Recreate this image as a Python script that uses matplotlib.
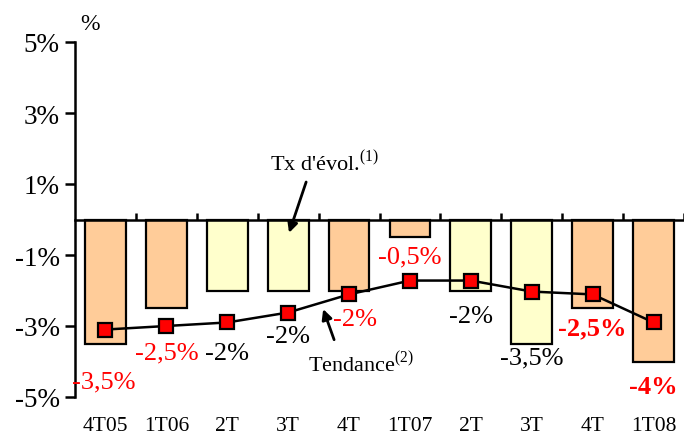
import matplotlib
matplotlib.use("Agg")
import matplotlib.pyplot as plt
from matplotlib.transforms import blended_transform_factory

categories = ["4T05", "1T06", "2T", "3T", "4T", "1T07", "2T", "3T", "4T", "1T08"]
bar_values = [-3.5, -2.5, -2, -2, -2, -0.5, -2, -3.5, -2.5, -4]
trend_values = [-3.1, -3.0, -2.9, -2.62, -2.11, -1.72, -1.72, -2.03, -2.11, -2.9]
bar_kind = ["o", "o", "y", "y", "o", "o", "y", "y", "o", "o"]
value_labels = ["-3,5%", "-2,5%", "-2%", "-2%", "-2%", "-0,5%", "-2%", "-3,5%", "-2,5%", "-4%"]
yticks = [-5, -3, -1, 1, 3, 5]
ytick_labels = ["-5%", "-3%", "-1%", "1%", "3%", "5%"]

plt.rcParams['font.family'] = ['Liberation Serif', 'DejaVu Serif']
plt.rcParams['mathtext.fontset'] = 'custom'
plt.rcParams['mathtext.rm'] = 'Liberation Serif'

fig = plt.figure(figsize=(6.84, 4.39), dpi=100)
ax = fig.add_axes([75/684, 41/439, 609/684, 355/439])

colors = {"o": "#FFCC99", "y": "#FFFFCC"}
x = list(range(len(categories)))
ax.bar(x, bar_values, width=0.67, color=[colors[k] for k in bar_kind],
       edgecolor="black", linewidth=1.6, zorder=2)
ax.plot(x, trend_values, color="black", lw=1.8, marker="s", markersize=10,
        markerfacecolor="#FF0000", markeredgecolor="black", markeredgewidth=1.6, zorder=3)

ax.set_xlim(-0.5, 9.5)
ax.set_ylim(-5, 5)
ax.set_yticks(yticks)
ax.set_yticklabels(ytick_labels, fontsize=19.5)
ax.tick_params(axis='y', direction='out', length=7, width=1.8, pad=4)
for s in ["top", "right"]:
    ax.spines[s].set_visible(False)
ax.spines["left"].set_linewidth(1.8)
ax.spines["bottom"].set_position(("data", 0))
ax.spines["bottom"].set_linewidth(1.8)
ax.spines["bottom"].set_zorder(4)
ax.set_xticks([])
ax.set_xticks([i + 0.5 for i in x], minor=True)
ax.tick_params(axis='x', which='minor', direction='out', length=5, width=1.8, top=False, bottom=True)
ax.xaxis.set_tick_params(which='minor', labelbottom=False)
for t in ax.xaxis.get_minorticklines():
    t.set_marker(2)

trans = blended_transform_factory(ax.transData, ax.transAxes)
for i, c in enumerate(categories):
    ax.text(i, -0.08, c, transform=trans, ha="center", va="center", fontsize=15.5)

label_pos = [(-0.03, -4.55), (0, -3.75), (0, -3.75), (0, -3.27), (0.1, -2.8), (0, -1.05), (0, -2.72), (0, -3.9), (0, -3.05), (0, -4.7)]
for i, (lab, (dx, yy)) in enumerate(zip(value_labels, label_pos)):
    col = "#FF0000" if bar_kind[i] == "o" else "black"
    bold = i >= 8
    ax.text(i + dx, yy, lab, ha="center", va="center", fontsize=19,
            color=col, fontweight="bold" if bold else "normal", zorder=5)

ax.text(3.6, 1.62, "Tx d'évol.$^{(1)}$", ha="center", va="center", fontsize=16)
ax.annotate("", xy=(3.0, -0.45), xytext=(3.31, 1.13),
            arrowprops=dict(arrowstyle="-|>", color="black", lw=2, mutation_scale=15))
ax.text(4.2, -4.05, "Tendance$^{(2)}$", ha="center", va="center", fontsize=16)
ax.annotate("", xy=(3.56, -2.45), xytext=(3.77, -3.46),
            arrowprops=dict(arrowstyle="-|>", color="black", lw=2, mutation_scale=15))

fig.text(90/684, 1 - 25/439, "%", ha="center", va="center", fontsize=17)

fig.savefig("out.png", dpi=100)
